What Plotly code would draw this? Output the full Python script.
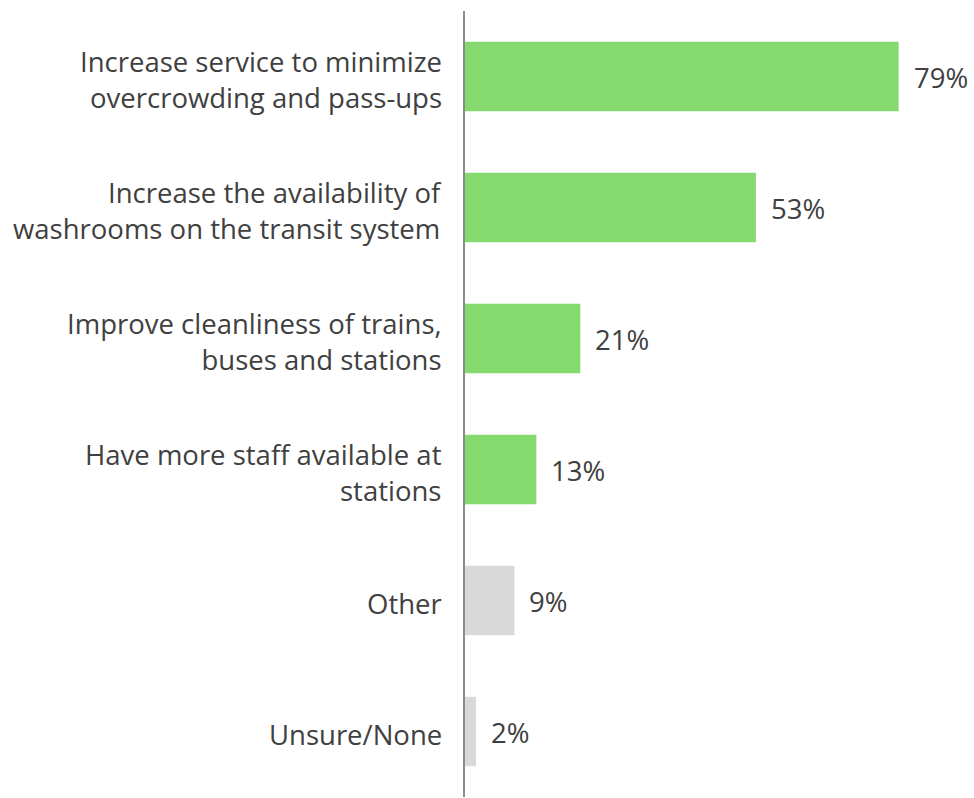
import plotly.graph_objects as go

categories = [
    "Increase service to minimize<br>overcrowding and pass-ups",
    "Increase the availability of<br>washrooms on the transit system",
    "Improve cleanliness of trains,<br>buses and stations",
    "Have more staff available at<br>stations",
    "Other",
    "Unsure/None",
]
values = [79, 53, 21, 13, 9, 2]
bar_colors = ["#84D96F", "#84D96F", "#84D96F", "#84D96F", "#D9D9D9", "#D9D9D9"]

text_color = "#404040"
font_family = "Open Sans, Noto Sans, sans-serif"
font_size = 27.5

fig = go.Figure(
    go.Bar(
        x=values,
        y=categories,
        orientation="h",
        marker=dict(color=bar_colors, line=dict(width=0)),
        width=0.53,
        hoverinfo="skip",
    )
)

label_font = dict(size=font_size, color=text_color, family=font_family)

for cat, val in zip(categories, values):
    # category label, right-aligned left of the axis line
    fig.add_annotation(
        xref="paper", x=0, y=cat, text=cat, showarrow=False,
        xanchor="right", align="right", xshift=-21, yshift=-3,
        font=label_font,
    )
    # value label just past the end of the bar
    fig.add_annotation(
        x=val, y=cat, text=f"{val}%", showarrow=False,
        xanchor="left", xshift=13, yshift=-1,
        font=label_font,
    )

fig.update_layout(
    width=974, height=798,
    margin=dict(l=465, r=15, t=11, b=1),
    paper_bgcolor="white", plot_bgcolor="white",
    showlegend=False,
    font=dict(family=font_family, size=font_size, color=text_color),
    xaxis=dict(range=[0, 90], visible=False, showgrid=False, zeroline=False),
    yaxis=dict(
        autorange="reversed",
        showgrid=False, zeroline=False,
        showline=True, linecolor="#8C8C8C", linewidth=2,
        ticks="", showticklabels=False,
    ),
)

fig.write_html("out.html")
